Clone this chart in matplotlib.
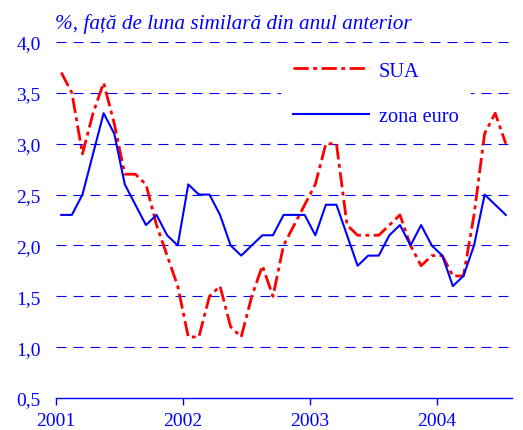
import numpy as np
import matplotlib.pyplot as plt
from matplotlib.ticker import FuncFormatter

'''
Inflatia lunara: SUA vs zona euro, ian 2001 - iul 2004
'''

ani = [2001, 2002, 2003, 2004]
luni = np.arange(43)  # ian 2001 ... iul 2004

sua = [3.7, 3.5, 2.9, 3.3, 3.6, 3.2, 2.7, 2.7, 2.6, 2.2, 1.9, 1.6,
       1.1, 1.1, 1.5, 1.6, 1.2, 1.1, 1.5, 1.8, 1.5, 2.0, 2.2, 2.4,
       2.6, 3.0, 3.0, 2.2, 2.1, 2.1, 2.1, 2.2, 2.3, 2.0, 1.8, 1.9,
       1.9, 1.7, 1.7, 2.3, 3.1, 3.3, 3.0]

euro = [2.3, 2.3, 2.5, 2.9, 3.3, 3.1, 2.6, 2.4, 2.2, 2.3, 2.1, 2.0,
        2.6, 2.5, 2.5, 2.3, 2.0, 1.9, 2.0, 2.1, 2.1, 2.3, 2.3, 2.3,
        2.1, 2.4, 2.4, 2.1, 1.8, 1.9, 1.9, 2.1, 2.2, 2.0, 2.2, 2.0,
        1.9, 1.6, 1.7, 2.0, 2.5, 2.4, 2.3]

titlu = '%, față de luna similară din anul anterior'

plt.rcParams['font.family'] = ['Liberation Serif', 'DejaVu Serif']
albastru = '#0000ff'
rosu = '#ff0000'
fs_tick = 14
fs_leg = 14.7
fs_tit = 15.3

x = 2001 + (luni + 0.5) / 12.0

fig = plt.figure(figsize=(5.23, 4.31), dpi=100)
ax = fig.add_axes([56/523, 32/431, (512-56)/523, (399-43)/431])

ax.plot(x, sua, color=rosu, lw=2, linestyle=(0, (5.5, 1.6, 1.4, 1.6)),
        label='SUA', zorder=3)
ax.plot(x, euro, color=albastru, lw=1.5, label='zona euro', zorder=3)

ax.set_xlim(2001, 2001 + 456/127.0)
ax.set_ylim(0.5, 4.0)
ax.set_yticks(np.arange(0.5, 4.01, 0.5))
ax.set_xticks(ani)
ax.set_xticklabels([str(a) for a in ani])
ax.yaxis.set_major_formatter(FuncFormatter(lambda v, p: ('%.1f' % v).replace('.', ',')))

for v in np.arange(1.0, 4.01, 0.5):
    ax.axhline(v, color=albastru, lw=0.8, linestyle=(0, (9, 6.3)), zorder=1)

for s in ['top', 'right', 'left']:
    ax.spines[s].set_visible(False)
ax.spines['bottom'].set_color(albastru)
ax.spines['bottom'].set_linewidth(1.0)

ax.tick_params(axis='y', length=0, pad=11, labelcolor=albastru, labelsize=fs_tick)
ax.tick_params(axis='x', length=5, width=1, color=albastru, direction='out',
               pad=5, labelcolor=albastru, labelsize=fs_tick)

leg = ax.legend(loc='upper left', bbox_to_anchor=((281-56)/456.0, (399-50)/356.0),
                frameon=True, fontsize=fs_leg, handlelength=3.7, handletextpad=0.5,
                labelspacing=1.3, borderpad=0.6, borderaxespad=0)
leg.get_frame().set_facecolor('white')
leg.get_frame().set_edgecolor('none')
leg.get_frame().set_alpha(1)
for t in leg.get_texts():
    t.set_color(albastru)

fig.text(55/523, 1 - 29/431.0, titlu, color=albastru, fontsize=fs_tit,
         style='italic', va='baseline', ha='left')

fig.savefig('out.png', dpi=100)
